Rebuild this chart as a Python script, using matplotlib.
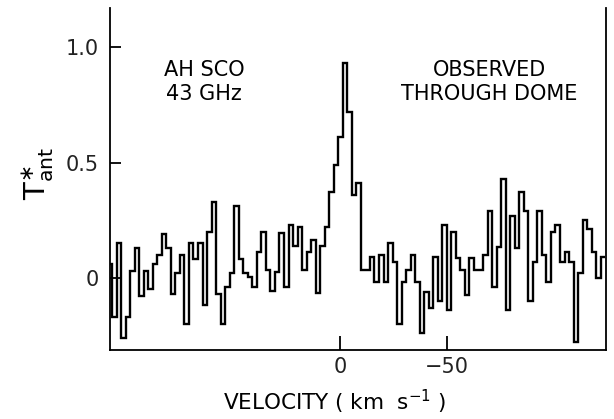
import numpy as np
import matplotlib.pyplot as plt

# Antenna temperature per channel (left to right)
t_ant = [
    0.06, -0.17, 0.15, -0.26, -0.17, 0.03, 0.13, -0.08, 0.03, -0.05,
    0.06, 0.10, 0.19, 0.13, -0.07, 0.02, 0.10, -0.20, 0.15, 0.08,
    0.15, -0.12, 0.20, 0.33, -0.07, -0.20, -0.04, 0.02, 0.31, 0.08,
    0.02, 0.005, -0.04, 0.11, 0.20, 0.035, -0.055, 0.026, 0.195, -0.04,
    0.23, 0.14, 0.22, 0.035, 0.11, 0.165, -0.065, 0.14, 0.22, 0.37,
    0.49, 0.61, 0.93, 0.72, 0.36, 0.41, 0.035, 0.035, 0.09, -0.02,
    0.10, -0.02, 0.15, 0.07, -0.20, -0.02, 0.035, 0.10, -0.02, -0.24,
    -0.06, -0.13, 0.09, -0.10, 0.23, -0.14, 0.20, 0.087, 0.035, -0.074,
    0.087, 0.035, 0.035, 0.10, 0.29, -0.04, 0.135, 0.43, -0.14, 0.27,
    0.13, 0.37, 0.29, -0.10, 0.07, 0.29, 0.10, -0.02, 0.20, 0.23,
    0.07, 0.11, 0.07, -0.28, 0.02, 0.25, 0.21, 0.11, 0.0, 0.09,
]
v_first = 108.6   # km/s, centre of first channel
dv = 2.13         # km/s channel width (velocity decreases to the right)
v_range = (108.5, -125.0)

yticks = [0, 0.5, 1.0]
ytick_labels = ["0", "0.5", "1.0"]
xticks = [0, -50]
xtick_labels = ["0", "\u221250"]

t_ant = np.array(t_ant)
n = len(t_ant)
edges = v_first + dv / 2 - dv * np.arange(n + 1)

plt.rcParams['font.family'] = ['DejaVu Sans']

fig = plt.figure(figsize=(6.14, 4.19), dpi=100)
ax = fig.add_axes([110 / 614, 1 - 350 / 419, 496 / 614, 342 / 419])

ax.stairs(t_ant[::-1], edges[::-1], baseline=None, color='black', lw=1.7)

ax.set_xlim(*v_range)
ax.set_ylim(-0.313, 1.17)

ax.spines['top'].set_visible(False)
for s in ['left', 'right', 'bottom']:
    ax.spines[s].set_linewidth(1.3)

ax.set_yticks(yticks)
ax.set_yticklabels(ytick_labels, fontsize=15, color='#222222')
ax.set_xticks(xticks)
ax.set_xticklabels(xtick_labels, fontsize=15, color='#222222')
ax.tick_params(axis='y', direction='in', length=8, width=1.3, pad=8)
ax.tick_params(axis='x', direction='in', length=10, width=1.3, pad=5)

ax.text(0.19, 0.785, "AH SCO\n43 GHz", transform=ax.transAxes, ha='center',
        va='center', fontsize=15, linespacing=1.25)
ax.text(0.765, 0.785, "OBSERVED\nTHROUGH DOME", transform=ax.transAxes, ha='center',
        va='center', fontsize=15, linespacing=1.25)

fig.text(38 / 619, 1 - 173 / 419, r"$\mathrm{T}^{\ast}_{\mathrm{ant}}$", rotation=90,
         ha='center', va='center', fontsize=21)
fig.text(335 / 614, 1 - 402 / 419, r"VELOCITY ( km  s$^{-1}$ )", ha='center',
         va='center', fontsize=15.5)

fig.savefig("out.png", dpi=100)
